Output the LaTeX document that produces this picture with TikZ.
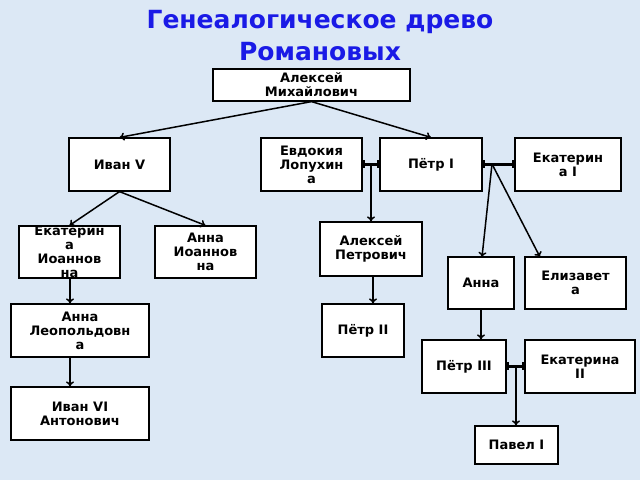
\documentclass[tikz,border=0pt]{standalone}
\usepackage{fontspec}
\setmainfont{DejaVu Sans}
\usetikzlibrary{arrows.meta}
\definecolor{bg}{HTML}{DCE8F5}
\definecolor{ttl}{HTML}{1A1AE6}
\begin{document}
\begin{tikzpicture}[x=1pt,y=-1pt,
  person/.style={draw=black,line width=1.2pt,fill=white,inner sep=0pt,align=center,font=\bfseries\fontsize{13}{14}\selectfont},
  arr/.style={line width=1.5pt,-{To[length=5pt,width=8pt]}},
  marr/.style={line width=2.5pt}]
\fill[bg] (0,0) rectangle (640,480);
\useasboundingbox (0,0) rectangle (640,480);
\node[font=\bfseries\fontsize{25}{32}\selectfont,text=ttl,align=center] (title) at (320,36) {Генеалогическое древо\\Романовых};
\newcommand{\pbox}[6]{\node[person,minimum width=#4-#2,minimum height=#5-#3] (#1) at ({(#2+#4)/2},{(#3+#5)/2}) {#6};}
\pbox{alex}{213}{69}{410}{101}{Алексей\\Михайлович}
\pbox{ivan}{69}{138}{170}{191}{Иван V}
\pbox{evd}{261}{138}{362}{191}{Евдокия\\Лопухин\\а}
\pbox{petr}{380}{138}{482}{191}{Пётр I}
\pbox{ek}{515}{138}{621}{191}{Екатерин\\а I}
\pbox{eki}{19}{226}{120}{278}{Екатерин\\а\\Иоаннов\\на}
\pbox{anni}{155}{226}{256}{278}{Анна\\Иоаннов\\на}
\pbox{alp}{320}{222}{422}{276}{Алексей\\Петрович}
\pbox{anna}{448}{257}{514}{309}{Анна}
\pbox{eliz}{525}{257}{626}{309}{Елизавет\\а}
\pbox{anl}{11}{304}{149}{357}{Анна\\Леопольдовн\\а}
\pbox{p2}{322}{304}{404}{357}{Пётр II}
\pbox{p3}{422}{340}{506}{393}{Пётр III}
\pbox{ek2}{525}{340}{635}{393}{Екатерина\\II}
\pbox{iv6}{11}{387}{149}{440}{Иван VI\\Антонович}
\pbox{pav}{475}{426}{558}{464}{Павел I}
\coordinate (m1) at (371,164);
\coordinate (m2) at (492,164);
\coordinate (m3) at (516,366);
\draw[marr] (evd.east) -- (petr.west);
\draw[marr] (petr.east) -- (ek.west);
\draw[marr] (p3.east) -- (ek2.west);
\foreach \x/\y in {364/164,378/164,484/164,513/164,508/366,523/366}
  \draw[line width=1.2pt] (\x,\y-4) -- (\x,\y+4);
\draw[arr] (alex.south) -- (ivan.north);
\draw[arr] (alex.south) -- (petr.north);
\draw[arr] (ivan.south) -- (eki.north);
\draw[arr] (ivan.south) -- (anni.north);
\draw[arr] (m1) -- (m1|-alp.north);
\draw[arr] (m2) -- (482,257);
\draw[arr] (m2) -- (540,257);
\draw[arr] (eki.south-|70,0) -- (anl.north-|70,0);
\draw[arr] (anl.south-|70,0) -- (iv6.north-|70,0);
\draw[arr] (alp.south-|373,0) -- (p2.north-|373,0);
\draw[arr] (anna.south) -- (anna.south|-p3.north);
\draw[arr] (m3) -- (m3|-pav.north);
\end{tikzpicture}
\end{document}
